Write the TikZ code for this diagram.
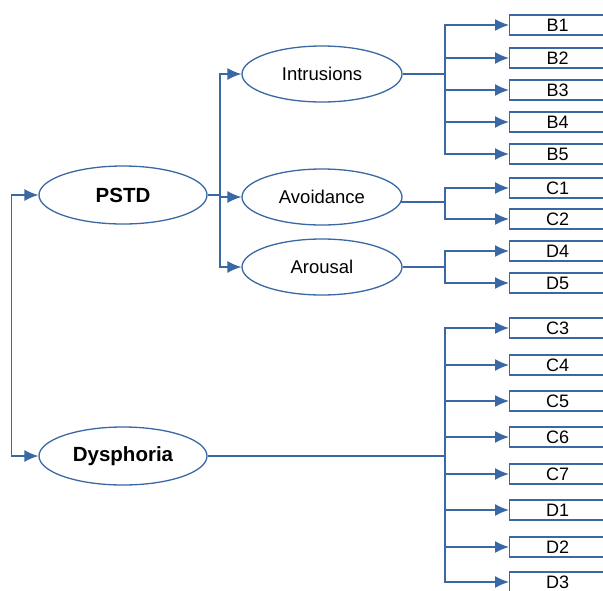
\documentclass[tikz,border=0pt]{standalone}
\usepackage{fontspec}
\setmainfont{Liberation Sans}
\usetikzlibrary{shapes.geometric,arrows.meta}
\definecolor{ln}{RGB}{58,104,165}
\tikzset{
  arr/.style={draw=ln,line width=1.4pt,-{Latex[length=14pt,width=12pt]}},
  plain/.style={draw=ln,line width=1.4pt},
  bigell/.style={ellipse,draw=ln,line width=1.3pt,minimum width=168pt,minimum height=58pt,inner sep=0pt,font=\fontsize{20.5}{24}\selectfont\bfseries},
  smell/.style={ellipse,draw=ln,line width=1.3pt,minimum width=160pt,minimum height=56pt,inner sep=0pt,font=\fontsize{18.5}{22}\selectfont},
  item/.style={rectangle,draw=ln,line width=1.3pt,minimum width=96pt,minimum height=20pt,inner sep=0pt,anchor=west,font=\fontsize{18}{20}\selectfont},
}
\begin{document}
\begin{tikzpicture}[x=1pt,y=-1pt]
\clip (0,0) rectangle (603,590);
\fill[white] (0,0) rectangle (603,590);
\node[bigell] (P) at (123,195) {PSTD};
\node[bigell] (D) at (123,456) {Dysphoria};
\node[smell] (I) at (322,74) {Intrusions};
\node[smell] (Av) at (322,197) {Avoidance};
\node[smell] (Ar) at (322,267) {Arousal};
\foreach \n/\y in {B1/25,B2/58,B3/90,B4/122,B5/154,C1/188,C2/219,D4/251,D5/283,C3/328,C4/365,C5/401,C6/437,C7/474,D1/510,D2/547,D3/582}{
  \node[item] (\n) at (509,\y) {\n};
}
\coordinate (jP) at (220,195);
\coordinate (jI) at (445,74);
\coordinate (jAv) at (445,202);
\coordinate (jAr) at (445,267);
\coordinate (jD) at (445,456);
% PSTD <-> Dysphoria
\draw[plain,{Latex[length=14pt,width=12pt]}-{Latex[length=14pt,width=12pt]}] (P.west) -- ++(-27,0) |- (D.west);
% PSTD to factors
\draw[plain] (P.east) -- (jP);
\foreach \t in {I,Av,Ar}{\draw[arr] (jP) |- (\t.west);}
% Intrusions
\draw[plain] (I.east) -- (jI);
\foreach \t in {B1,B2,B3,B4,B5}{\draw[arr] (jI) |- (\t.west);}
% Avoidance
\draw[plain] ([xshift=-1.5pt]jAv -| Av.east) -- (jAv);
\foreach \t in {C1,C2}{\draw[arr] (jAv) |- (\t.west);}
% Arousal
\draw[plain] (Ar.east) -- (jAr);
\foreach \t in {D4,D5}{\draw[arr] (jAr) |- (\t.west);}
% Dysphoria
\draw[plain] (D.east) -- (jD);
\foreach \t in {C3,C4,C5,C6,C7,D1,D2,D3}{\draw[arr] (jD) |- (\t.west);}
\end{tikzpicture}
\end{document}
